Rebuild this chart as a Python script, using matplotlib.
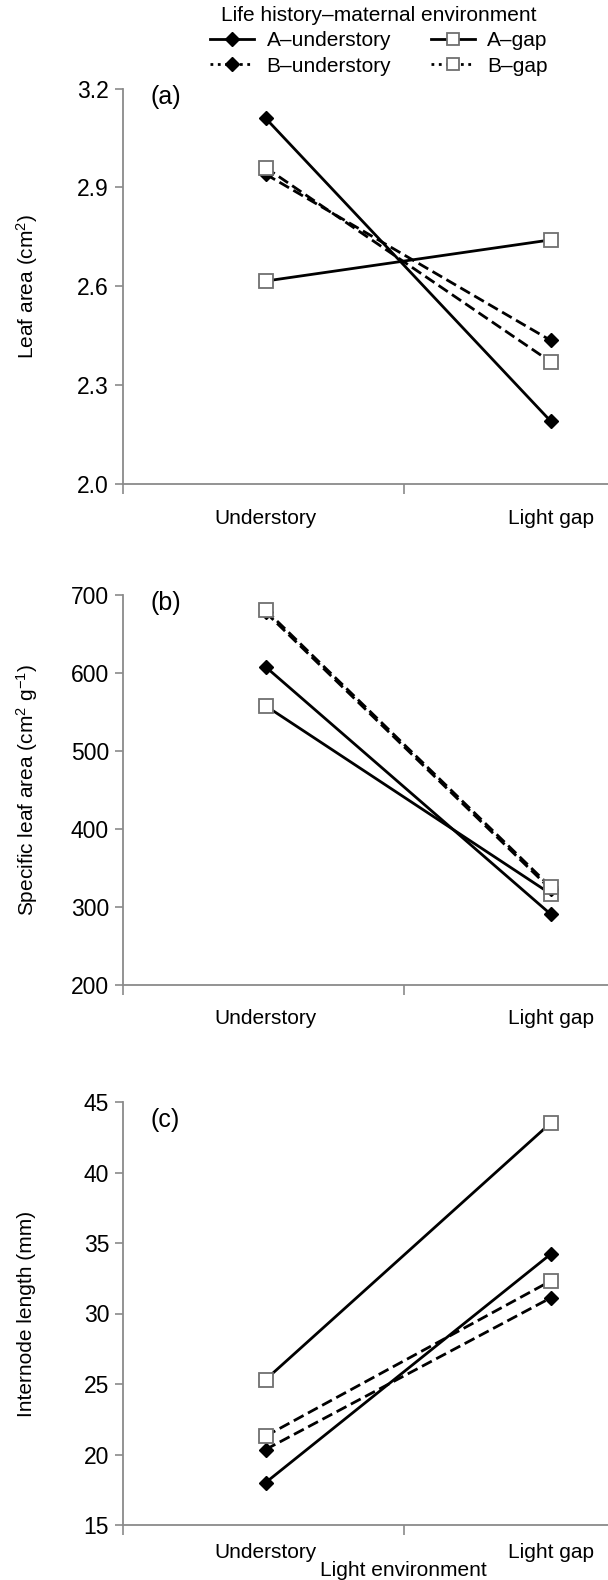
import matplotlib
matplotlib.use("Agg")
import matplotlib.pyplot as plt
from matplotlib.lines import Line2D

plt.rcParams['font.family'] = ['Liberation Sans', 'DejaVu Sans']
plt.rcParams['mathtext.fontset'] = 'custom'
plt.rcParams['mathtext.rm'] = 'Liberation Sans'
plt.rcParams['mathtext.it'] = 'Liberation Sans:italic'
plt.rcParams['mathtext.default'] = 'regular'

# ---------------- data ----------------
categories = ["Understory", "Light gap"]
series_names = ["A\u2013understory", "B\u2013understory", "A\u2013gap", "B\u2013gap"]

leaf_area_A_under = [3.11, 2.19]
leaf_area_B_under = [2.94, 2.435]
leaf_area_A_gap = [2.615, 2.74]
leaf_area_B_gap = [2.96, 2.37]

sla_A_under = [608, 291]
sla_B_under = [678, 323]
sla_A_gap = [558, 317]
sla_B_gap = [681, 326]

internode_A_under = [18.0, 34.2]
internode_B_under = [20.35, 31.1]
internode_A_gap = [25.3, 43.5]
internode_B_gap = [21.3, 32.3]

panel_letters = ["(a)", "(b)", "(c)"]
y_labels = ["Leaf area (cm$^{2}$)",
            "Specific leaf area (cm$^{2}$ g$^{\u22121}$)",
            "Internode length (mm)"]
y_limits = [(2.0, 3.2), (200, 700), (15, 45)]
y_ticks = [[2.0, 2.3, 2.6, 2.9, 3.2], [200, 300, 400, 500, 600, 700],
           [15, 20, 25, 30, 35, 40, 45]]
y_fmt = ["{:.1f}", "{:d}", "{:d}"]
panels_data = [
    [leaf_area_A_under, leaf_area_B_under, leaf_area_A_gap, leaf_area_B_gap],
    [sla_A_under, sla_B_under, sla_A_gap, sla_B_gap],
    [internode_A_under, internode_B_under, internode_A_gap, internode_B_gap],
]

# ---------------- figure ----------------
W, H = 608, 1580
fig = plt.figure(figsize=(W / 100, H / 100), dpi=100)

left_px, right_px = 123, 693
panel_px = [(88.5, 483.5), (595, 985), (1102, 1525)]  # (top, bottom) pixels
letter_px = [(150, 97), (150, 603), (150, 1120)]
xpads = [18, 17, 13]

FS = 15
GRAY = "#8a8a8a"
dash = (0, (4, 1.8))
styles = [
    dict(ls="-", marker="D", mfc="black", mec="black", ms=7.5),
    dict(ls=dash, marker="D", mfc="black", mec="black", ms=7.5),
    dict(ls="-", marker="s", mfc="white", mec="#707070", ms=10, mew=1.3),
    dict(ls=dash, marker="s", mfc="white", mec="#707070", ms=10, mew=1.3),
]
xs = [0, 1]

for i, (top, bot) in enumerate(panel_px):
    ax = fig.add_axes([left_px / W, 1 - bot / H, (right_px - left_px) / W, (bot - top) / H])
    for j in [2, 1, 3, 0]:
        st = styles[j]
        ax.plot(xs, panels_data[i][j], color="black", lw=2.0,
                linestyle=st["ls"], marker=st["marker"], markerfacecolor=st["mfc"],
                markeredgecolor=st["mec"], markersize=st["ms"],
                markeredgewidth=st.get("mew", 1.0), clip_on=False, zorder=3 + (j == 0))
    ax.set_xlim(-0.5, 1.5)
    ax.set_ylim(*y_limits[i])
    ax.set_yticks(y_ticks[i])
    ax.set_yticklabels([y_fmt[i].format(v) for v in y_ticks[i]], fontsize=16.5)
    ax.set_xticks([-0.5, 0.485])
    ax.set_xticklabels([])
    ax.set_xticks(xs, minor=True)
    ax.set_xticklabels(categories, minor=True, fontsize=FS)
    ax.tick_params(axis="x", which="major", direction="out", length=7, width=1.2, color=GRAY)
    ax.tick_params(axis="x", which="minor", length=0, pad=xpads[i])
    ax.tick_params(axis="y", direction="out", length=6, width=1.2, color=GRAY, pad=4)
    for s in ["top", "right"]:
        ax.spines[s].set_visible(False)
    for s in ["left", "bottom"]:
        ax.spines[s].set_color(GRAY)
        ax.spines[s].set_linewidth(1.3)
    ax.patch.set_alpha(0)
    fig.text(27 / W, 1 - (top + bot) / 2 / H, y_labels[i], rotation=90,
             ha="center", va="center", fontsize=FS)
    lx, ly = letter_px[i]
    fig.text(lx / W, 1 - ly / H, panel_letters[i], ha="left", va="center", fontsize=18)

fig.text(403 / W, 1 - 1576.5 / H, "Light environment", ha="center", va="baseline", fontsize=FS)

# legend
handles = [
    Line2D([], [], color="black", lw=2, ls="-", marker="D", mfc="black", mec="black", ms=7.5),
    Line2D([], [], color="black", lw=2, ls=":", marker="D", mfc="black", mec="black", ms=7.5),
    Line2D([], [], color="black", lw=2, ls="-", marker="s", mfc="white", mec="#707070", ms=9, mew=1.3),
    Line2D([], [], color="black", lw=2, ls=":", marker="s", mfc="white", mec="#707070", ms=9, mew=1.3),
]
leg = fig.legend(handles, series_names, ncol=2, loc="upper center",
                 bbox_to_anchor=(379 / W, 1 - 4 / H), frameon=False,
                 title="Life history\u2013maternal environment",
                 fontsize=FS, title_fontsize=FS, handlelength=2.1, handletextpad=0.6,
                 columnspacing=1.9, labelspacing=0.3, borderpad=0.1, borderaxespad=0)

fig.savefig("out.png", dpi=100)
